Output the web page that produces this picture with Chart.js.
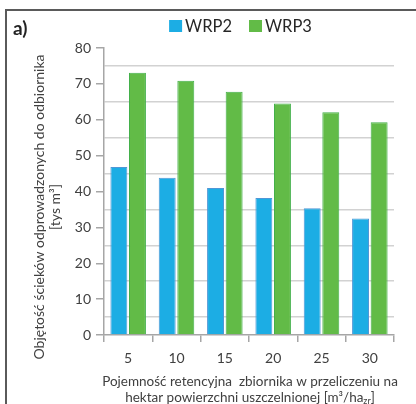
<!DOCTYPE html>
<html><head><meta charset="utf-8">
<script src="https://cdn.jsdelivr.net/npm/chart.js@4"></script>
<style>html,body{margin:0;padding:0;background:#fff}canvas{display:block}</style>
</head><body><canvas id="c" width="416" height="404"></canvas>
<script>
const categories = ['5', '10', '15', '20', '25', '30'];
const wrp2 = [46.8, 43.8, 41.0, 38.2, 35.3, 32.5];
const wrp3 = [73.1, 70.9, 67.8, 64.5, 62.1, 59.3];
const seriesNames = ['WRP2', 'WRP3'];
const yTickValues = [0, 10, 20, 30, 40, 50, 60, 70, 80];
const yTitleLines = ['Objętość ścieków odprowadzonych do odbiornika', '[tys m³]'];
const xTitleLine1 = 'Pojemność retencyjna  zbiornika w przeliczeniu na';
const xTitleLine2Main = 'hektar powierzchni uszczelnionej [m³/ha';
const xTitleLine2Sub = 'zr';
const xTitleLine2End = ']';
const panelLabel = 'a)';

const FONT = 'Lato, "Open Sans", sans-serif';
const TXT = '#404040';
const colors = [
  { fill: '#1cade4', border: '#4f97d6' },
  { fill: '#62bb47', border: '#43b04a' }
];

const decor = {
  id: 'decor',
  afterDraw(chart) {
    const ctx = chart.ctx;
    const area = chart.chartArea;
    ctx.save();
    // frame
    ctx.strokeStyle = '#5a5a5a';
    ctx.lineWidth = 2;
    ctx.beginPath();
    ctx.moveTo(6, 420);
    ctx.lineTo(6, 10);
    ctx.lineTo(420, 10);
    ctx.stroke();
    // panel label
    ctx.fillStyle = '#222';
    ctx.font = 'bold 19px ' + FONT;
    ctx.textBaseline = 'alphabetic';
    ctx.textAlign = 'left';
    ctx.fillText(panelLabel, 13, 35);
    // legend
    ctx.font = '16.5px ' + FONT;
    const box = 13, gap = 3, between = 17;
    const widths = chart.data.datasets.map(d => ctx.measureText(d.label).width);
    let total = 0;
    widths.forEach((w, i) => { total += box + gap + w + (i ? between : 0); });
    let x = 240.5 - total / 2;
    chart.data.datasets.forEach((d, i) => {
      ctx.fillStyle = d.backgroundColor;
      ctx.fillRect(x, 20, box, 12);
      ctx.fillStyle = '#262626';
      ctx.fillText(d.label, x + box + gap, 32);
      x += box + gap + widths[i] + between;
    });
    // y title
    ctx.fillStyle = TXT;
    ctx.font = '14px ' + FONT;
    ctx.textAlign = 'center';
    ctx.textBaseline = 'middle';
    const cy = 207;
    ctx.save();
    ctx.translate(39, cy);
    ctx.rotate(-Math.PI / 2);
    ctx.fillText(yTitleLines[0], 0, 0);
    ctx.restore();
    ctx.save();
    ctx.translate(55, cy);
    ctx.rotate(-Math.PI / 2);
    ctx.fillText(yTitleLines[1], 0, 0);
    ctx.restore();
    // x title
    const cx = (area.left + area.right) / 2 + 1;
    ctx.font = '13.5px ' + FONT;
    ctx.textBaseline = 'alphabetic';
    ctx.textAlign = 'center';
    ctx.fillText(xTitleLine1, cx, 386);
    ctx.textAlign = 'left';
    const wMain = ctx.measureText(xTitleLine2Main).width;
    const wEnd = ctx.measureText(xTitleLine2End).width;
    ctx.font = '9px ' + FONT;
    const wSub = ctx.measureText(xTitleLine2Sub).width;
    const start = cx - (wMain + wSub + wEnd) / 2;
    ctx.font = '13.5px ' + FONT;
    ctx.fillText(xTitleLine2Main, start, 402);
    ctx.font = '9px ' + FONT;
    ctx.fillText(xTitleLine2Sub, start + wMain, 404);
    ctx.font = '13.5px ' + FONT;
    ctx.fillText(xTitleLine2End, start + wMain + wSub, 402);
    ctx.restore();
  }
};

new Chart(document.getElementById('c'), {
  type: 'bar',
  data: {
    labels: categories,
    datasets: [
      { label: seriesNames[0], data: wrp2, backgroundColor: colors[0].fill, borderColor: colors[0].border, borderWidth: 1 },
      { label: seriesNames[1], data: wrp3, backgroundColor: colors[1].fill, borderColor: colors[1].border, borderWidth: 1 }
    ]
  },
  options: {
    responsive: false,
    animation: false,
    devicePixelRatio: 1,
    categoryPercentage: 0.77,
    barPercentage: 0.91,
    layout: { padding: { top: 48, right: 22, left: 0, bottom: 0 } },
    plugins: { legend: { display: false }, tooltip: { enabled: false } },
    scales: {
      x: {
        grid: { offset: true, drawOnChartArea: false, color: '#a6a6a6', tickLength: 7, lineWidth: 1.5 },
        border: { color: '#a6a6a6', width: 1.5 },
        ticks: { font: { family: FONT, size: 14 }, color: TXT, padding: 8 },
        afterFit(s) { s.height = 69; }
      },
      y: {
        min: 0, max: 80,
        ticks: {
          stepSize: 5, autoSkip: false,
          font: { family: FONT, size: 14 }, color: TXT, padding: 5,
          callback: (v) => yTickValues.includes(v) ? String(v) : ''
        },
        grid: {
          color: (c) => (c.tick && c.tick.value % 10 === 5) ? '#d2d2d2' : 'rgba(0,0,0,0)',
          tickColor: (c) => (c.tick && c.tick.value % 10 === 0) ? '#a6a6a6' : 'rgba(0,0,0,0)',
          tickLength: 8, lineWidth: 1.5
        },
        border: { color: '#a6a6a6', width: 1.5 },
        afterFit(s) { s.width = 104; }
      }
    }
  },
  plugins: [decor]
});
</script>
</body></html>
